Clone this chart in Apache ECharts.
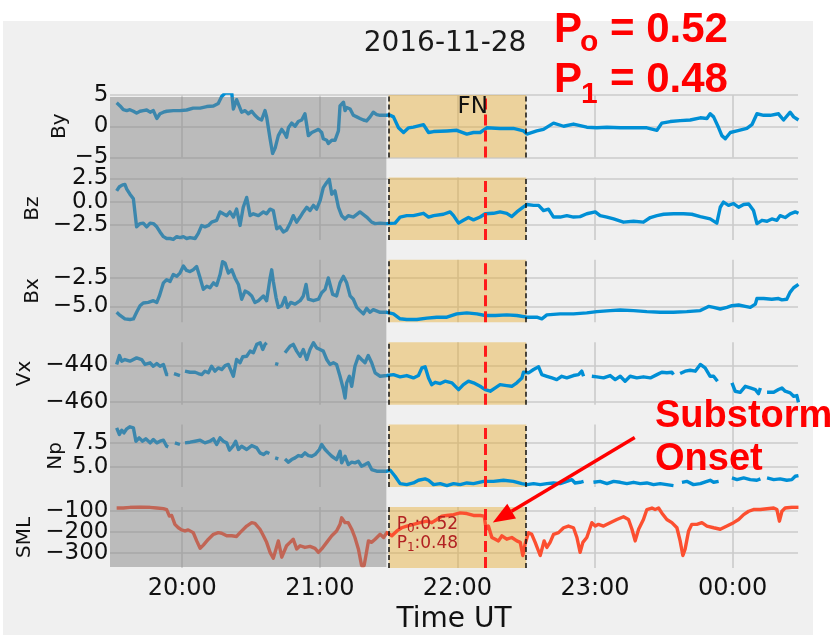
<!DOCTYPE html>
<html>
<head>
<meta charset="utf-8">
<script src="https://cdn.jsdelivr.net/npm/echarts@6/dist/echarts.min.js"></script>
<style>
html, body { margin: 0; padding: 0; background: #ffffff; }
#chart { width: 830px; height: 635px; }
</style>
</head>
<body>
<div id="chart"></div>
<script>
// Time is in minutes of the day 2016-11-28 (1440 = 00:00 next day).
const timeRange = [1168.5, 1468.5];
const hourTicks = [1200, 1260, 1320, 1380, 1440];
const grayEnd = 1289;          // end of the shaded history window
const windowStart = 1290;      // 21:30
const windowEnd = 1350;        // 22:30
const onsetTime = 1332;        // 22:12 substorm onset

const dateLabel = '2016-11-28';
const probLabels = { p0: '0.52', p1: '0.48' };

// [minute, value]; null value = data gap
const byData = [
[1171.4,3.75],[1172.9,3.25],[1174.3,2.65],[1175.8,2.5],[1177.2,2.65],[1178.7,2.4],[1180.1,2.1],[1181.6,2.4],[1183.0,2.5],[1184.5,2.6],[1186.0,2.25],[1187.4,2.5],[1188.9,1.25],[1190.3,2.0],[1191.8,2.25],[1193.2,2.4],[1196.1,2.5],[1199.0,2.5],[1201.9,2.6],[1204.8,2.9],[1207.8,2.9],[1210.7,3.15],[1213.6,3.25],[1215.7,3.65],[1217.2,4.75],[1218.7,5.3],[1221.6,5.3],[1222.3,2.75],[1223.7,4.25],[1224.5,4.0],[1225.9,2.25],[1227.4,2.5],[1228.8,2.0],[1230.3,2.4],[1231.7,1.75],[1233.2,1.25],[1234.6,1.0],[1236.1,2.5],[1236.8,1.5],[1238.3,-2.0],[1239.4,-4.35],[1240.5,-3.5],[1241.9,-1.5],[1243.4,-0.5],[1244.8,-1.25],[1245.5,-1.75],[1246.3,-0.25],[1247.7,0.5],[1249.2,0.0],[1250.6,0.75],[1252.1,1.0],[1253.5,2.0],[1255.0,-1.5],[1256.5,-1.0],[1257.9,-0.75],[1259.4,-0.5],[1260.8,-1.0],[1261.5,-2.0],[1263.0,-2.25],[1263.7,-2.75],[1265.2,-2.25],[1266.6,-2.25],[1268.1,-0.75],[1268.8,3.25],[1270.3,3.85],[1271.0,2.5],[1271.7,3.0],[1273.2,2.75],[1274.6,1.75],[1276.1,1.5],[1277.5,1.25],[1279.0,1.0],[1280.4,0.85],[1281.9,1.5],[1283.3,2.25],[1284.8,1.85],[1286.3,1.75],[1289.2,1.75],
[1290.2,1.85],[1292.1,1.5],[1294.3,-0.25],[1296.5,-1.0],[1298.7,-0.25],[1300.8,-0.15],[1305.2,0.25],[1307.4,-1.0],[1309.6,-0.85],[1315.4,-0.75],[1319.7,-0.65],[1324.1,-1.25],[1327.0,-1.0],[1329.9,-1.0],[1332.8,-0.25],[1338.6,-0.35],[1344.4,-0.35],[1348.8,-0.75],[1350.3,-1.25],[1354.6,-0.75],[1357.5,-0.5],[1361.9,0.5],[1366.3,0.0],[1370.6,0.35],[1376.4,-0.15],[1380.8,-0.25],[1385.2,-0.15],[1391.0,-0.25],[1396.8,-0.25],[1402.6,-0.25],[1407.0,-0.65],[1409.1,0.5],[1412.8,0.75],[1417.1,0.9],[1421.5,1.0],[1425.9,1.35],[1428.8,1.25],[1430.2,2.0],[1431.7,1.5],[1433.9,-0.25],[1435.3,-1.5],[1436.8,-2.0],[1439.0,-1.0],[1441.9,-0.75],[1446.2,-0.35],[1448.4,0.25],[1450.6,2.0],[1453.5,1.75],[1456.4,1.75],[1460.0,2.0],[1460.7,1.65],[1462.2,1.0],[1465.1,2.25],[1466.6,1.5],[1468.7,1.0]
];

const bzData = [
[1171.4,1.15],[1172.6,1.6],[1174.0,1.8],[1175.0,1.85],[1175.8,1.35],[1177.2,0.8],[1178.7,0.3],[1180.1,-2.7],[1181.6,-2.35],[1183.0,-2.3],[1184.5,-2.7],[1186.0,-2.3],[1187.4,-2.35],[1188.9,-2.7],[1190.3,-3.25],[1191.8,-3.75],[1193.2,-3.95],[1194.7,-3.95],[1196.1,-4.05],[1197.6,-3.75],[1199.0,-3.85],[1200.5,-3.75],[1201.9,-3.95],[1203.4,-3.85],[1205.6,-3.95],[1207.0,-3.4],[1208.5,-2.55],[1209.9,-2.7],[1211.4,-2.55],[1212.8,-2.2],[1215.0,-2.0],[1216.5,-1.1],[1217.9,-1.3],[1219.4,-1.5],[1220.8,-1.1],[1222.3,-1.65],[1223.7,-0.8],[1225.2,-2.55],[1226.6,-0.6],[1228.1,0.45],[1229.6,-1.5],[1231.0,-1.3],[1233.2,-1.5],[1235.4,-1.1],[1236.8,-1.3],[1238.3,-0.8],[1239.7,-0.95],[1241.2,-2.9],[1242.6,-2.7],[1244.1,-3.25],[1245.5,-3.05],[1247.0,-2.35],[1248.4,-1.5],[1249.9,-2.2],[1251.4,-1.65],[1252.8,-1.1],[1254.3,-0.6],[1255.7,-0.95],[1257.2,-0.4],[1258.6,-0.8],[1260.1,0.1],[1261.5,1.5],[1263.0,2.05],[1264.1,2.4],[1265.2,0.8],[1266.6,1.15],[1268.1,-0.6],[1269.5,-1.5],[1271.0,-1.85],[1272.4,-1.5],[1274.6,-1.65],[1277.5,-1.1],[1280.4,-1.65],[1282.6,-2.2],[1284.1,-2.35],[1286.3,-2.3],[1289.2,-2.35],
[1292.8,-2.3],[1295.0,-1.65],[1297.9,-1.5],[1300.8,-1.5],[1305.2,-1.25],[1307.4,-1.65],[1309.6,-1.5],[1313.9,-1.35],[1316.8,-1.1],[1318.3,-1.5],[1320.5,-2.3],[1322.6,-2.0],[1324.8,-1.7],[1327.0,-1.95],[1329.9,-1.65],[1332.1,-1.3],[1335.7,-1.25],[1338.6,-1.1],[1341.5,-1.25],[1343.7,-1.6],[1345.9,-1.1],[1348.8,-0.55],[1350.3,-0.3],[1353.2,-0.4],[1355.4,-0.4],[1357.5,-0.95],[1359.7,-0.8],[1361.9,-1.65],[1364.8,-1.65],[1367.7,-1.5],[1370.6,-1.65],[1373.5,-1.6],[1376.4,-1.3],[1380.1,-1.1],[1382.2,-1.5],[1385.2,-1.65],[1388.1,-1.85],[1392.4,-2.2],[1396.8,-2.1],[1401.1,-2.2],[1404.1,-1.7],[1407.0,-1.5],[1409.9,-1.35],[1414.2,-1.3],[1418.6,-1.3],[1422.2,-1.35],[1425.9,-1.6],[1430.2,-1.85],[1433.1,-2.3],[1434.6,-0.6],[1436.0,-0.05],[1438.2,-0.4],[1440.4,-0.2],[1442.6,-0.6],[1444.8,-0.3],[1447.0,-0.25],[1449.1,-0.95],[1450.6,-2.35],[1452.8,-2.0],[1455.0,-2.1],[1457.1,-1.85],[1459.3,-2.0],[1460.7,-1.5],[1462.9,-1.7],[1465.1,-1.3],[1467.3,-1.1],[1468.7,-1.25]
];

const bxData = [
[1171.4,-5.52],[1172.9,-5.8],[1175.0,-6.1],[1177.2,-6.15],[1178.7,-6.1],[1180.1,-5.52],[1181.6,-4.95],[1183.0,-4.7],[1185.2,-4.65],[1187.4,-4.5],[1188.9,-4.65],[1190.0,-4.1],[1191.8,-2.93],[1193.2,-2.65],[1194.7,-2.8],[1196.1,-2.2],[1197.6,-2.35],[1199.0,-2.07],[1200.5,-1.44],[1201.9,-1.84],[1203.4,-1.93],[1204.8,-1.78],[1206.3,-1.5],[1207.8,-2.5],[1209.2,-3.5],[1210.7,-3.22],[1212.1,-3.36],[1213.6,-2.93],[1215.0,-3.16],[1216.5,-2.2],[1217.6,-1.06],[1218.7,-1.2],[1220.1,-2.07],[1221.6,-1.78],[1223.0,-2.5],[1224.5,-3.07],[1225.9,-4.37],[1227.4,-3.65],[1228.8,-3.8],[1230.3,-4.08],[1231.7,-4.65],[1233.2,-4.5],[1235.4,-4.08],[1236.8,-4.5],[1238.3,-2.5],[1239.0,-1.78],[1239.7,-2.79],[1240.9,-4.22],[1241.9,-5.09],[1243.4,-4.94],[1244.8,-4.22],[1245.9,-5.09],[1247.3,-4.65],[1249.2,-4.8],[1251.4,-4.5],[1252.8,-4.08],[1254.0,-3.07],[1255.0,-4.37],[1257.2,-4.5],[1259.4,-4.37],[1260.8,-3.8],[1262.3,-3.5],[1263.7,-2.5],[1264.4,-2.36],[1265.6,-3.94],[1267.3,-4.08],[1268.8,-2.93],[1270.3,-2.36],[1271.7,-2.93],[1273.2,-4.08],[1274.6,-4.37],[1276.1,-5.09],[1277.5,-5.37],[1279.0,-5.66],[1280.4,-5.17],[1281.9,-5.52],[1283.3,-5.29],[1286.3,-5.52],[1289.2,-5.52],
[1289.9,-5.52],[1292.1,-5.66],[1295.0,-6.09],[1297.9,-6.15],[1302.3,-6.15],[1306.7,-6.03],[1311.0,-5.95],[1315.4,-5.95],[1319.7,-5.66],[1324.1,-5.57],[1328.5,-5.66],[1332.1,-5.8],[1336.5,-5.8],[1341.5,-5.75],[1345.9,-5.8],[1350.3,-5.95],[1354.6,-5.95],[1356.8,-6.09],[1359.0,-5.75],[1364.8,-5.66],[1370.6,-5.66],[1376.4,-5.57],[1380.8,-5.46],[1386.6,-5.37],[1391.0,-5.32],[1396.8,-5.37],[1402.6,-5.46],[1408.4,-5.52],[1414.2,-5.52],[1420.0,-5.46],[1425.9,-5.37],[1429.5,-5.0],[1431.7,-5.09],[1434.6,-5.23],[1437.5,-5.09],[1439.7,-4.94],[1442.6,-4.88],[1445.5,-5.0],[1447.7,-5.09],[1449.9,-4.8],[1450.6,-4.31],[1453.5,-4.31],[1457.1,-4.37],[1460.0,-4.31],[1461.5,-4.43],[1463.6,-4.37],[1465.1,-3.74],[1466.6,-3.36],[1467.3,-3.5],[1468.7,-3.07]
];

const vxData = [
[1171.4,-439.4],[1172.6,-434.5],[1173.6,-437.6],[1175.0,-436.7],[1177.2,-437.6],[1180.1,-435.8],[1182.3,-436.7],[1183.8,-439.4],[1186.0,-438.5],[1187.4,-440.4],[1188.9,-438.9],[1190.3,-440.4],[1191.8,-439.4],[1193.2,-445.0],[1193.9,-445.0],[1195.2,null],[1196.4,-444.4],[1199.0,-445.5],[1200.1,null],[1201.2,-443.1],[1203.4,-443.7],[1205.6,-443.7],[1207.0,-444.4],[1208.5,-445.0],[1209.9,-443.1],[1211.4,-444.0],[1212.8,-440.4],[1214.3,-443.1],[1215.7,-441.3],[1217.2,-442.2],[1218.7,-440.0],[1220.1,-439.4],[1220.8,-438.5],[1222.3,-445.9],[1223.7,-436.7],[1225.2,-438.5],[1226.4,-435.2],[1228.1,-434.9],[1229.6,-432.1],[1231.0,-433.0],[1232.5,-428.4],[1234.0,-427.5],[1235.1,-431.2],[1236.1,-428.4],[1236.8,-427.5],[1238.6,null],[1240.5,-438.9],[1241.9,-439.4],[1243.3,null],[1244.8,-433.0],[1247.0,-429.4],[1248.4,-428.4],[1249.9,-432.1],[1251.4,-434.9],[1252.8,-431.2],[1254.3,-436.7],[1255.7,-431.2],[1257.2,-427.5],[1258.6,-430.3],[1260.1,-431.2],[1261.5,-432.1],[1263.0,-436.7],[1264.4,-439.4],[1265.9,-438.5],[1267.3,-439.4],[1268.8,-445.9],[1270.3,-453.2],[1271.0,-457.8],[1271.7,-449.5],[1272.9,-445.9],[1273.9,-451.4],[1275.3,-440.4],[1276.8,-434.9],[1278.2,-436.7],[1279.7,-438.5],[1281.1,-434.5],[1282.6,-438.5],[1284.1,-444.0],[1286.3,-445.9],[1289.2,-445.5],
[1292.1,-445.0],[1295.0,-446.2],[1297.9,-445.5],[1300.8,-446.8],[1303.0,-445.5],[1304.5,-441.3],[1305.9,-440.7],[1307.4,-446.8],[1308.8,-450.5],[1310.3,-449.2],[1312.5,-449.9],[1314.6,-448.6],[1317.6,-449.5],[1320.5,-453.2],[1322.6,-450.5],[1324.8,-448.6],[1327.0,-449.5],[1329.9,-451.4],[1332.1,-453.2],[1334.3,-454.1],[1336.5,-452.3],[1338.6,-450.5],[1341.5,-451.0],[1343.7,-451.4],[1345.9,-449.5],[1348.1,-446.8],[1348.8,-443.7],[1351.0,-444.0],[1353.2,-442.2],[1355.4,-440.7],[1356.8,-445.0],[1359.0,-445.9],[1361.2,-446.8],[1363.3,-447.7],[1365.5,-445.9],[1367.7,-446.8],[1370.6,-445.5],[1372.8,-445.0],[1374.2,-443.1],[1375.0,-445.9],[1376.8,null],[1378.6,-445.9],[1380.8,-446.2],[1383.7,-446.8],[1386.6,-445.5],[1388.8,-447.7],[1391.0,-445.9],[1393.1,-448.6],[1395.3,-445.9],[1398.2,-446.8],[1401.1,-446.2],[1404.1,-446.8],[1407.0,-445.0],[1409.1,-443.7],[1411.3,-444.0],[1413.5,-443.7],[1414.2,-445.0],[1415.6,null],[1417.1,-444.4],[1419.3,-443.1],[1421.5,-442.6],[1423.7,-443.1],[1425.9,-439.4],[1428.0,-441.3],[1430.2,-445.9],[1431.7,-445.9],[1433.4,-448.6],[1436.5,null],[1439.7,-449.5],[1441.1,-454.1],[1443.3,-454.7],[1445.5,-451.4],[1447.7,-452.3],[1449.9,-453.2],[1451.3,-455.4],[1452.1,-452.3],[1453.5,null],[1455.0,-454.7],[1457.9,-454.7],[1460.0,-453.2],[1461.5,-452.3],[1462.9,-454.1],[1465.1,-455.0],[1466.6,-456.9],[1468.0,-456.5],[1468.7,-460.2]
];

const npData = [
[1171.4,9.06],[1172.6,8.37],[1173.6,8.82],[1174.6,8.54],[1175.8,8.96],[1177.2,9.17],[1178.7,9.06],[1179.8,7.67],[1181.2,8.02],[1182.7,7.67],[1184.1,7.92],[1186.0,7.5],[1187.4,7.85],[1188.9,7.5],[1190.3,7.67],[1191.8,7.78],[1193.2,7.15],[1193.9,7.08],[1195.2,null],[1196.8,7.5],[1199.0,7.33],[1200.1,null],[1201.2,7.5],[1203.4,7.57],[1205.6,7.67],[1207.8,7.78],[1209.9,7.5],[1212.1,7.67],[1213.6,7.92],[1215.0,7.33],[1216.5,8.02],[1217.9,7.67],[1219.4,7.5],[1220.6,6.74],[1222.1,7.15],[1223.3,7.67],[1224.5,6.81],[1225.9,7.15],[1228.1,6.81],[1230.3,7.22],[1232.5,6.98],[1233.9,6.46],[1235.4,6.28],[1236.8,6.53],[1238.0,6.39],[1239.2,null],[1240.5,5.94],[1241.9,5.83],[1243.3,null],[1244.8,5.83],[1246.3,5.49],[1247.7,5.76],[1249.2,5.94],[1250.6,6.18],[1252.1,6.11],[1253.5,6.46],[1255.0,6.18],[1256.5,6.11],[1257.9,6.28],[1259.8,6.81],[1260.8,7.33],[1262.3,6.81],[1263.7,6.46],[1265.2,6.11],[1267.3,5.76],[1268.8,6.63],[1269.5,5.42],[1271.0,6.11],[1272.4,5.24],[1273.9,5.49],[1275.3,5.42],[1276.8,5.59],[1278.2,5.07],[1279.7,5.24],[1281.1,5.42],[1282.6,4.72],[1284.8,4.55],[1286.9,4.55],[1289.2,4.55],
[1290.7,4.65],[1292.8,4.03],[1295.0,3.26],[1297.9,3.16],[1300.8,3.33],[1303.0,3.61],[1305.9,3.75],[1307.4,3.61],[1309.6,3.16],[1312.5,3.26],[1315.4,3.06],[1318.3,3.26],[1321.2,3.16],[1324.1,3.33],[1327.0,3.26],[1331.4,3.5],[1335.7,3.5],[1340.1,3.61],[1344.4,3.5],[1348.1,3.26],[1350.3,3.16],[1353.2,3.26],[1356.1,3.16],[1359.0,3.26],[1361.9,3.33],[1364.8,3.26],[1367.7,3.5],[1369.9,3.68],[1371.3,3.33],[1373.5,3.4],[1375.0,3.5],[1377.0,null],[1379.3,3.4],[1382.2,3.5],[1385.2,3.26],[1388.1,3.5],[1391.0,3.4],[1393.9,3.26],[1396.8,3.4],[1399.7,3.26],[1402.6,3.33],[1405.5,3.16],[1408.4,3.26],[1411.3,3.16],[1414.2,3.06],[1416.0,null],[1417.9,3.4],[1420.0,3.5],[1422.9,3.16],[1425.9,3.26],[1428.8,3.5],[1430.2,3.61],[1431.7,3.4],[1433.9,3.5],[1436.5,null],[1439.7,3.85],[1441.9,3.68],[1444.8,3.85],[1447.7,3.68],[1450.6,3.61],[1452.1,3.75],[1453.5,null],[1455.0,3.85],[1457.9,3.68],[1460.7,3.75],[1463.6,3.61],[1465.8,3.68],[1467.3,4.03],[1468.7,4.1]
];

const smlData = [
[1171.4,-87.6],[1174.3,-87.6],[1177.2,-84.5],[1181.6,-83],[1186.0,-84.5],[1188.9,-87.6],[1191.8,-90.7],[1193.2,-95.3],[1194.4,-126],[1195.4,-123],[1196.8,-165],[1198.3,-181],[1199.7,-191],[1201.2,-196],[1202.6,-191],[1204.8,-204],[1206.3,-243],[1207.8,-278],[1209.2,-263],[1211.4,-235],[1213.6,-212],[1215.7,-204],[1217.2,-207],[1219.4,-219],[1221.6,-219],[1223.7,-222],[1225.2,-204],[1228.1,-173],[1230.3,-157],[1231.7,-160],[1233.9,-188],[1235.4,-219],[1236.8,-250],[1238.3,-297],[1239.7,-325],[1240.9,-281],[1241.9,-243],[1243.4,-320],[1244.1,-328],[1245.5,-266],[1247.0,-250],[1248.4,-235],[1249.9,-281],[1251.4,-266],[1253.5,-274],[1255.7,-269],[1257.9,-278],[1259.4,-297],[1260.8,-281],[1263.0,-250],[1265.2,-219],[1267.3,-196],[1268.8,-165],[1269.5,-134],[1271.0,-157],[1272.4,-157],[1273.9,-188],[1275.3,-227],[1276.8,-281],[1278.2,-359],[1279.3,-359],[1280.1,-312],[1281.2,-243],[1282.6,-250],[1284.1,-235],[1286.3,-212],[1287.8,-227],[1289.2,-204],
[1291.4,-219],[1293.6,-196],[1295.7,-181],[1297.9,-173],[1300.8,-165],[1303.7,-157],[1306.7,-150],[1308.8,-157],[1311.0,-142],[1313.2,-126],[1315.4,-123],[1318.3,-119],[1321.2,-111],[1324.1,-114],[1327.0,-123],[1329.9,-123],[1331.7,-126],[1332.5,-188],[1333.5,-173],[1335.0,-227],[1336.5,-235],[1337.9,-243],[1339.4,-219],[1341.5,-235],[1343.7,-227],[1345.9,-243],[1347.4,-250],[1348.5,-312],[1349.5,-258],[1351.0,-204],[1352.4,-212],[1353.9,-250],[1356.1,-312],[1357.8,-243],[1359.0,-274],[1360.4,-250],[1361.9,-212],[1364.1,-204],[1366.3,-181],[1368.4,-173],[1370.6,-181],[1372.1,-227],[1373.5,-297],[1374.7,-250],[1376.4,-227],[1378.6,-157],[1380.1,-173],[1381.5,-165],[1383.7,-173],[1386.6,-157],[1389.5,-142],[1392.4,-129],[1394.6,-142],[1396.1,-188],[1397.5,-243],[1399.0,-188],[1401.1,-142],[1402.6,-95],[1404.8,-88],[1406.2,-95],[1407.7,-88],[1409.1,-111],[1411.3,-142],[1413.5,-157],[1415.7,-181],[1417.1,-243],[1418.3,-312],[1419.3,-281],[1420.8,-196],[1422.2,-165],[1424.4,-165],[1426.6,-157],[1428.8,-173],[1431.7,-181],[1434.6,-188],[1437.5,-173],[1440.4,-157],[1442.6,-142],[1444.8,-119],[1447.0,-103],[1449.1,-95],[1452.1,-95],[1455.0,-91],[1457.9,-88],[1459.3,-95],[1460.4,-150],[1461.5,-103],[1462.9,-88],[1465.8,-84],[1468.7,-84]
];

// Arrow target on the SML trace and label anchors (data coordinates)
const onsetPoint = [1335.4, -156];
const fnAnchor = [1320, 1.85];
const probAnchor = [1293.5, -193];

const BLUE = '#008fd5';
const RED = '#fc4f30';
const TEXT = '#111111';
const GRID_COLOR = '#cbcbcb';
const FONT = '"DejaVu Sans", sans-serif';

const panels = [
  { name: 'By',  data: byData,  color: BLUE, min: -5,     max: 5,      ticks: [5, 0, -5],        dec: 0, gap: 40 },
  { name: 'Bz',  data: bzData,  color: BLUE, min: -4.1,   max: 2.6,    ticks: [2.5, 0, -2.5],    dec: 1, gap: 67 },
  { name: 'Bx',  data: bxData,  color: BLUE, min: -6.4,   max: -0.9,   ticks: [-2.5, -5],        dec: 1, gap: 67 },
  { name: 'Vx',  data: vxData,  color: BLUE, min: -461.5, max: -427.2, ticks: [-440, -460],      dec: 0, gap: 75 },
  { name: 'Np',  data: npData,  color: BLUE, min: 2.9,    max: 9.4,    ticks: [7.5, 5],          dec: 1, gap: 44 },
  { name: 'SML', data: smlData, color: RED,  min: -371,   max: -83,    ticks: [-100, -200, -300], dec: 0, gap: 75 }
];

const panelTop0 = 95, panelStep = 82.4, panelH = 62.5;
const plotLeft = 110, plotRight = 32;

function fmtTick(v, d) {
  const s = Math.abs(v).toFixed(d);
  return (v < 0 ? '\u2212' : '') + s;
}
function fmtTime(m) {
  const h = Math.floor(m / 60) % 24;
  const mm = Math.round(m % 60);
  return String(h).padStart(2, '0') + ':' + String(mm).padStart(2, '0');
}

const grids = [], xAxes = [], yAxes = [], series = [];
panels.forEach((p, i) => {
  const last = i === panels.length - 1;
  grids.push({ left: plotLeft, right: plotRight, top: panelTop0 + i * panelStep, height: panelH, containLabel: false });
  xAxes.push({
    type: 'value', gridIndex: i, min: timeRange[0], max: timeRange[1],
    axisLine: { show: false },
    axisTick: { show: false, customValues: hourTicks },
    axisLabel: { show: false },
    splitLine: { show: true, lineStyle: { color: GRID_COLOR, width: 1.6 } },
    name: last ? 'Time UT' : '', nameLocation: 'middle', nameGap: 38,
    nameTextStyle: { fontFamily: FONT, fontSize: 28, color: TEXT }
  });
  yAxes.push({
    type: 'value', gridIndex: i, min: p.min, max: p.max,
    axisLine: { show: false },
    axisTick: { show: false, customValues: p.ticks },
    axisLabel: { show: false },
    splitLine: { show: true, lineStyle: { color: GRID_COLOR, width: 1.6 } },
    name: p.name, nameLocation: 'middle', nameGap: p.gap, nameRotate: 90,
    nameTextStyle: { fontFamily: FONT, fontSize: 20, color: TEXT }
  });
  series.push({
    type: 'line', xAxisIndex: i, yAxisIndex: i, z: 3,
    data: p.data.map(d => [d[0], d[1] === null ? '-' : d[1]]),
    showSymbol: false, symbol: 'none', connectNulls: false,
    lineStyle: { color: p.color, width: 3.4, join: 'round' },
    itemStyle: { color: p.color },
    markArea: {
      silent: true,
      itemStyle: { color: 'rgba(230,170,40,0.42)' },
      data: [[{ xAxis: windowStart }, { xAxis: windowEnd }]]
    },
    markLine: {
      silent: true, symbol: ['none', 'none'], label: { show: false },
      data: [
        { xAxis: windowStart, lineStyle: { color: '#111', type: [5, 3], width: 1.5 } },
        { xAxis: windowEnd, lineStyle: { color: '#111', type: [5, 3], width: 1.5 } },
        { xAxis: onsetTime, lineStyle: { color: '#ff1a1a', type: [11, 5], width: 3 } }
      ]
    }
  });
});

// Shaded history window spanning all panels
grids.push({ left: plotLeft, right: plotRight, top: 97, height: 470 });
xAxes.push({ type: 'value', gridIndex: 6, min: timeRange[0], max: timeRange[1], show: false, splitLine: { show: false } });
yAxes.push({ type: 'value', gridIndex: 6, min: 0, max: 1, show: false, splitLine: { show: false } });
series.push({
  type: 'custom', xAxisIndex: 6, yAxisIndex: 6, z: 10, silent: true,
  data: [[timeRange[0], grayEnd]],
  renderItem: function (params, api) {
    const a = api.coord([api.value(0), 1]);
    const b = api.coord([api.value(1), 0]);
    return { type: 'rect', shape: { x: a[0], y: a[1], width: b[0] - a[0], height: b[1] - a[1] },
             style: { fill: 'rgba(128,128,128,0.47)' } };
  }
});

const chart = echarts.init(document.getElementById('chart'), null, { renderer: 'canvas' });
chart.setOption({
  animation: false,
  backgroundColor: '#ffffff',
  textStyle: { fontFamily: FONT },
  grid: grids, xAxis: xAxes, yAxis: yAxes, series: series
});

// Tick labels placed from each axis's own scale
const tickFontY = '23px "DejaVu Sans"';
const tickFontX = '24px "DejaVu Sans"';
const tickLabels = [];
panels.forEach((p, i) => {
  p.ticks.forEach(v => {
    const y = chart.convertToPixel({ yAxisIndex: i }, v);
    tickLabels.push({ type: 'text', z: 40, silent: true,
      style: { text: fmtTick(v, p.dec), x: plotLeft - 1.5, y: y, align: 'right', verticalAlign: 'middle', font: tickFontY, fill: TEXT } });
  });
});
const axisBottom = chart.convertToPixel({ yAxisIndex: 5 }, panels[5].min);
hourTicks.forEach(t => {
  const x = chart.convertToPixel({ xAxisIndex: 5 }, t);
  tickLabels.push({ type: 'text', z: 40, silent: true,
    style: { text: fmtTime(t), x: x, y: axisBottom + 21, align: 'center', verticalAlign: 'middle', font: tickFontX, fill: TEXT } });
});

const tip = chart.convertToPixel({ seriesIndex: 5 }, onsetPoint);
const tail = [tip[0] + 142, tip[1] - 85];
const ux = (tip[0] - tail[0]), uy = (tip[1] - tail[1]);
const len = Math.hypot(ux, uy);
const dx = ux / len, dy = uy / len;
const headL = 22, headW = 8.5;
const base = [tip[0] - dx * headL, tip[1] - dy * headL];
const fnPos = chart.convertToPixel({ seriesIndex: 0 }, fnAnchor);
const prPos = chart.convertToPixel({ seriesIndex: 5 }, probAnchor);

const bold = 'bold 42px "Liberation Sans", Arial, sans-serif';
const boldSub = 'bold 30px "Liberation Sans", Arial, sans-serif';
const annot = 'bold 38px "Liberation Sans", Arial, sans-serif';
const small = '17px "DejaVu Sans"';
const smallSub = '12px "DejaVu Sans"';
const PRED = '#b22222';

chart.setOption({
  graphic: [
    { type: 'rect', z: -10, silent: true, shape: { x: 3, y: 21, width: 810, height: 614 }, style: { fill: '#f0f0f0' } },
    { type: 'text', z: 50, silent: true, style: { text: dateLabel, x: 445, y: 44, align: 'center', verticalAlign: 'middle', font: '28px "DejaVu Sans"', fill: '#1a1a1a' } },
    { type: 'text', z: 50, silent: true, style: { text: 'FN', x: fnPos[0], y: fnPos[1] - 8, align: 'left', verticalAlign: 'middle', font: '23px "DejaVu Sans"', fill: '#111' } },

    { type: 'text', z: 50, silent: true, style: { text: 'P', x: prPos[0], y: prPos[1] - 6, align: 'left', verticalAlign: 'middle', font: small, fill: PRED } },
    { type: 'text', z: 50, silent: true, style: { text: '0', x: prPos[0] + 10.3, y: prPos[1] - 1, align: 'left', verticalAlign: 'middle', font: smallSub, fill: PRED } },
    { type: 'text', z: 50, silent: true, style: { text: ':' + probLabels.p0, x: prPos[0] + 17.9, y: prPos[1] - 6, align: 'left', verticalAlign: 'middle', font: small, fill: PRED } },
    { type: 'text', z: 50, silent: true, style: { text: 'P', x: prPos[0], y: prPos[1] + 13, align: 'left', verticalAlign: 'middle', font: small, fill: PRED } },
    { type: 'text', z: 50, silent: true, style: { text: '1', x: prPos[0] + 10.3, y: prPos[1] + 18, align: 'left', verticalAlign: 'middle', font: smallSub, fill: PRED } },
    { type: 'text', z: 50, silent: true, style: { text: ':' + probLabels.p1, x: prPos[0] + 17.9, y: prPos[1] + 13, align: 'left', verticalAlign: 'middle', font: small, fill: PRED } },

    { type: 'text', z: 60, silent: true, style: { text: 'P', x: 554, y: 30, align: 'left', verticalAlign: 'middle', font: bold, fill: '#ff0000' } },
    { type: 'text', z: 60, silent: true, style: { text: 'o', x: 580, y: 43, align: 'left', verticalAlign: 'middle', font: boldSub, fill: '#ff0000' } },
    { type: 'text', z: 60, silent: true, style: { text: '= ' + probLabels.p0, x: 610, y: 30, align: 'left', verticalAlign: 'middle', font: bold, fill: '#ff0000' } },
    { type: 'text', z: 60, silent: true, style: { text: 'P', x: 554, y: 80, align: 'left', verticalAlign: 'middle', font: bold, fill: '#ff0000' } },
    { type: 'text', z: 60, silent: true, style: { text: '1', x: 581, y: 95, align: 'left', verticalAlign: 'middle', font: boldSub, fill: '#ff0000' } },
    { type: 'text', z: 60, silent: true, style: { text: '= ' + probLabels.p1, x: 610, y: 80, align: 'left', verticalAlign: 'middle', font: bold, fill: '#ff0000' } },

    { type: 'text', z: 60, silent: true, style: { text: 'Substorm', x: 655, y: 417, align: 'left', verticalAlign: 'middle', font: annot, fill: '#ff0000' } },
    { type: 'text', z: 60, silent: true, style: { text: 'Onset', x: 655, y: 460, align: 'left', verticalAlign: 'middle', font: annot, fill: '#ff0000' } },
    { type: 'line', z: 60, silent: true, shape: { x1: tail[0], y1: tail[1], x2: base[0], y2: base[1] }, style: { stroke: '#ff0000', lineWidth: 3.5 } },
    { type: 'polygon', z: 60, silent: true, shape: { points: [tip, [base[0] - dy * headW, base[1] + dx * headW], [base[0] + dy * headW, base[1] - dx * headW]] }, style: { fill: '#ff0000' } }
  ].concat(tickLabels)
});
</script>
</body>
</html>
